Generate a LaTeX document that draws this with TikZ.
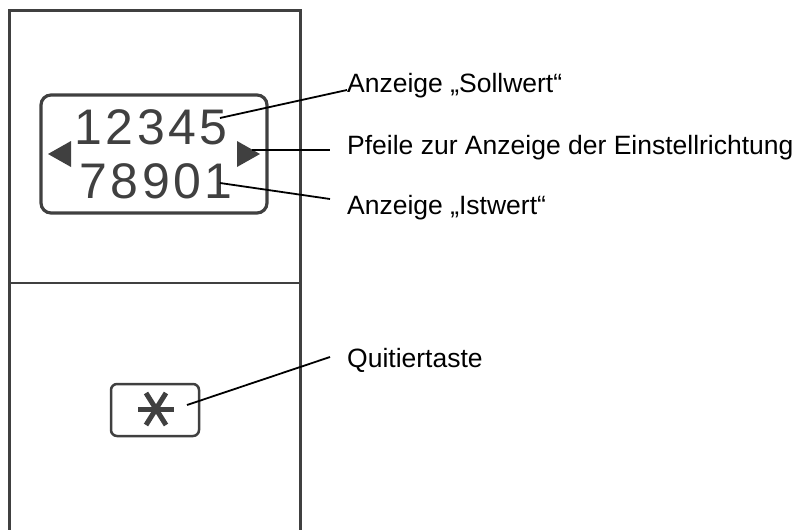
\documentclass[tikz,border=0pt]{standalone}
\usepackage{fontspec}
\setmainfont{Liberation Sans}
\newfontfamily\lcdfont[LetterSpace=7]{Liberation Sans}
\definecolor{frame}{HTML}{404040}
\tikzset{
  wall/.style={draw=frame,line width=3pt},
  panel/.style={draw=frame,line width=3.2pt,rounded corners=10pt},
  pointer/.style={draw=black,line width=1.8pt},
  callout/.style={anchor=base west,inner sep=0pt,font=\fontsize{26.5}{30}\selectfont},
  lcd/.style={text=frame,inner sep=0pt,font=\lcdfont\fontsize{50}{50}\selectfont},
  arrowmark/.style={fill=frame,draw=none}
}
\begin{document}
\begin{tikzpicture}[x=1pt,y=-1pt]
\useasboundingbox (0,0) rectangle (796,530);

\coordinate (tl) at (9,10);
\coordinate (tr) at (300,10);
\coordinate (bl) at (9,530);
\coordinate (br) at (300,530);
\coordinate (ml) at (9,283);
\coordinate (mr) at (300,283);
\path[wall] (bl) -- (tl) -- (tr) -- (br);
\path[draw=frame,line width=1.8pt] (ml) -- (mr);

\node[panel,minimum width=226pt,minimum height=118pt] (display) at (154,154) {};
\node[lcd] (soll) at (151,127) {12345};
\node[lcd] (ist) at (156,181) {78901};

\path[arrowmark] (48,154) -- (71,141) -- (71,167) -- cycle;
\path[arrowmark] (260,154) -- (237,141) -- (237,167) -- cycle;

\node[draw=frame,line width=2.5pt,rounded corners=6pt,minimum width=88pt,minimum height=52pt] (key) at (155,410) {};
\path[draw=frame,line width=5pt] (138,409) -- (174,409);
\path[draw=frame,line width=5pt] (146,393) -- (166,425);
\path[draw=frame,line width=5pt] (166,393) -- (146,425);

\node[callout] (t1) at (347,92) {Anzeige „Sollwert“};
\node[callout] (t2) at (347,154) {Pfeile zur Anzeige der Einstellrichtung};
\node[callout] (t3) at (347,214) {Anzeige „Istwert“};
\node[callout] (t4) at (347,367) {Quitiertaste};

\coordinate (p1) at (220,118);
\coordinate (p2) at (252,150);
\coordinate (p3) at (220,183);
\coordinate (p4) at (187,405);
\coordinate (q1) at (347,90);
\coordinate (q2) at (330,150);
\coordinate (q3) at (330,199);
\coordinate (q4) at (330,357);
\path[pointer] (p1) -- (q1);
\path[pointer] (p2) -- (q2);
\path[pointer] (p3) -- (q3);
\path[pointer] (p4) -- (q4);
\end{tikzpicture}
\end{document}
